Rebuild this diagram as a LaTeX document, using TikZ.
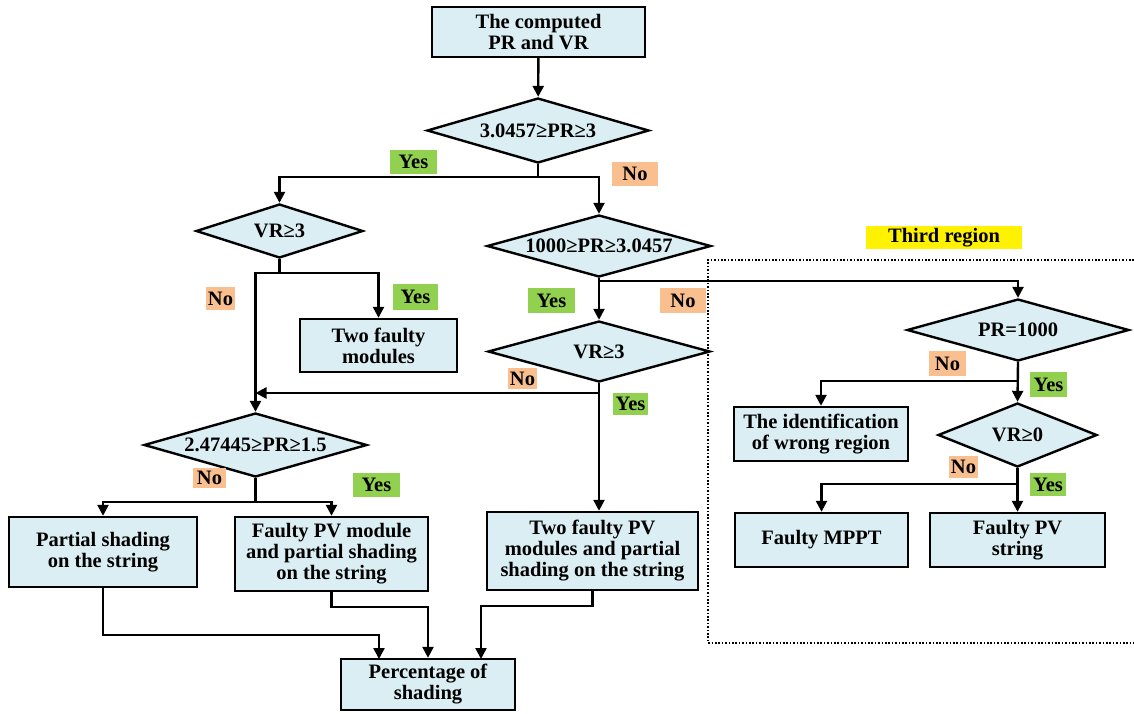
\documentclass[tikz,border=0pt]{standalone}
\usepackage{fontspec}
\setmainfont{Liberation Serif}
\usetikzlibrary{shapes.geometric,arrows.meta}
\definecolor{boxfill}{RGB}{219,238,243}
\definecolor{yesgreen}{RGB}{146,208,80}
\definecolor{nopeach}{RGB}{250,191,143}
\begin{document}
\begin{tikzpicture}[x=1pt,y=-1pt,
  every node/.style={font={\fontsize{20.5}{21}\selectfont\bfseries}},
  procbox/.style={draw=black, line width=2.4pt, fill=boxfill, inner sep=0pt, align=center},
  decision/.style={diamond, draw=black, line width=2.4pt, fill=boxfill, inner sep=0pt, aspect=3.5},
  tagyes/.style={fill=yesgreen, inner sep=0pt},
  tagno/.style={fill=nopeach, inner sep=0pt},
  flow/.style={line width=2.4pt, -{Triangle[length=11pt,width=11pt]}},
  link/.style={line width=2.4pt}]
\useasboundingbox (0,0) rectangle (1134,713);

% dotted frame around the third region
\draw[line width=1.2pt, dash pattern=on 1.6pt off 1.8pt]
  (1134,260) -- (708,260) -- (708,643) -- (1134,643);
\node[fill=yellow, inner sep=0pt, minimum width=156, minimum height=23] (third) at (944,237.5) {Third region};

% process boxes
\node[procbox, minimum width=213, minimum height=50] (start) at (538.5,32) {The computed\\PR and VR};
\node[procbox, minimum width=157, minimum height=53] (twofm) at (378.5,345.5) {Two faulty\\modules};
\node[procbox, minimum width=188, minimum height=70] (partial) at (103,552) {Partial shading\\on the string};
\node[procbox, minimum width=193, minimum height=74] (fpvm) at (331.5,554) {Faulty PV module\\and partial shading\\on the string};
\node[procbox, minimum width=211, minimum height=78] (twopv) at (592.5,551) {Two faulty PV\\modules and partial\\shading on the string};
\node[procbox, minimum width=174, minimum height=51] (pct) at (428,684.5) {Percentage of\\shading};
\node[procbox, minimum width=174, minimum height=54] (ident) at (821,434) {The identification\\of wrong region};
\node[procbox, minimum width=173, minimum height=54] (mppt) at (821.5,540) {Faulty MPPT};
\node[procbox, minimum width=175, minimum height=54] (fpvs) at (1017.5,540) {Faulty PV\\string};

% decisions
\node[decision, minimum width=222, minimum height=65] (d1) at (538,130.5) {3.0457≥PR≥3};
\node[decision, minimum width=167, minimum height=54] (d2) at (279.5,231) {VR≥3};
\node[decision, minimum width=224, minimum height=62] (d3) at (599,246) {1000≥PR≥3.0457};
\node[decision, minimum width=222, minimum height=61] (d4) at (599,351.5) {VR≥3};
\node[decision, minimum width=223, minimum height=64] (d5) at (255.5,445) {2.47445≥PR≥1.5};
\node[decision, minimum width=222, minimum height=62] (d6) at (1018,330) {PR=1000};
\node[decision, minimum width=159, minimum height=64] (d7) at (1017.5,435) {VR≥0};

% yes / no tags
\node[tagyes, minimum width=47, minimum height=24] (y1) at (413.5,162) {Yes};
\node[tagno,  minimum width=46, minimum height=24] (n1) at (635,174) {No};
\node[tagno,  minimum width=29, minimum height=23] (n2) at (220.5,298.5) {No};
\node[tagyes, minimum width=45, minimum height=26] (y2) at (415.5,297) {Yes};
\node[tagyes, minimum width=47, minimum height=25] (y3) at (551.5,300.5) {Yes};
\node[tagno,  minimum width=46, minimum height=25] (n3) at (683,300.5) {No};
\node[tagno,  minimum width=29, minimum height=21] (n4) at (522.5,378.5) {No};
\node[tagyes, minimum width=35, minimum height=22] (y4) at (630.5,404) {Yes};
\node[tagno,  minimum width=33, minimum height=20] (n5) at (209.5,478) {No};
\node[tagyes, minimum width=47, minimum height=24] (y5) at (376.5,485) {Yes};
\node[tagno,  minimum width=37, minimum height=25] (n6) at (947.5,363.5) {No};
\node[tagyes, minimum width=37, minimum height=25] (y6) at (1048.5,384.5) {Yes};
\node[tagno,  minimum width=29, minimum height=22] (n7) at (963.5,467) {No};
\node[tagyes, minimum width=36, minimum height=23] (y7) at (1048,484.5) {Yes};

% junction points
\coordinate (j1) at (538,177);
\coordinate (j2) at (279.5,273);
\coordinate (j3) at (599,281);
\coordinate (j4) at (599,393);
\coordinate (j5) at (255.5,502);
\coordinate (p1) at (379,659);
\coordinate (p3) at (481,659);

% connectors
\draw[flow] (start) -- (d1);
\draw[link] (d1.south) -- (j1);
\draw[flow] (j1) -| (d2.north);
\draw[flow] (j1) -| (d3.north);
\draw[link] (d2.south) -- (j2);
\draw[flow] (j2) -| (twofm.north);
\draw[flow] (j2) -| (d5.north);
\draw[link] (d3.south) -- (j3);
\draw[flow] (j3) -| (d6.north);
\draw[flow] (j3) -- (d4.north);
\draw[flow] (d4.south) -- (d4.south |- twopv.north);
\draw[flow] (j4) -- (j4 -| d5.north);
\draw[link] (d5.south) -- (j5);
\draw[flow] (j5) -| (partial.north);
\draw[flow] (j5) -| (fpvm.north);
\draw[flow] (partial.south) -- ++(0,47) -| (p1);
\draw[flow] (fpvm.south) -- ++(0,15) -| (pct.north);
\draw[flow] (twopv.south) -- ++(0,15) -| (p3);
\draw[flow] (d6.south) -- ++(0,19) -| (ident.north);
\draw[flow] (d6.south) -- (d7.north);
\draw[flow] (d7.south) -- ++(0,16) -| (mppt.north);
\draw[flow] (d7.south) -- (fpvs.north);
\end{tikzpicture}
\end{document}
